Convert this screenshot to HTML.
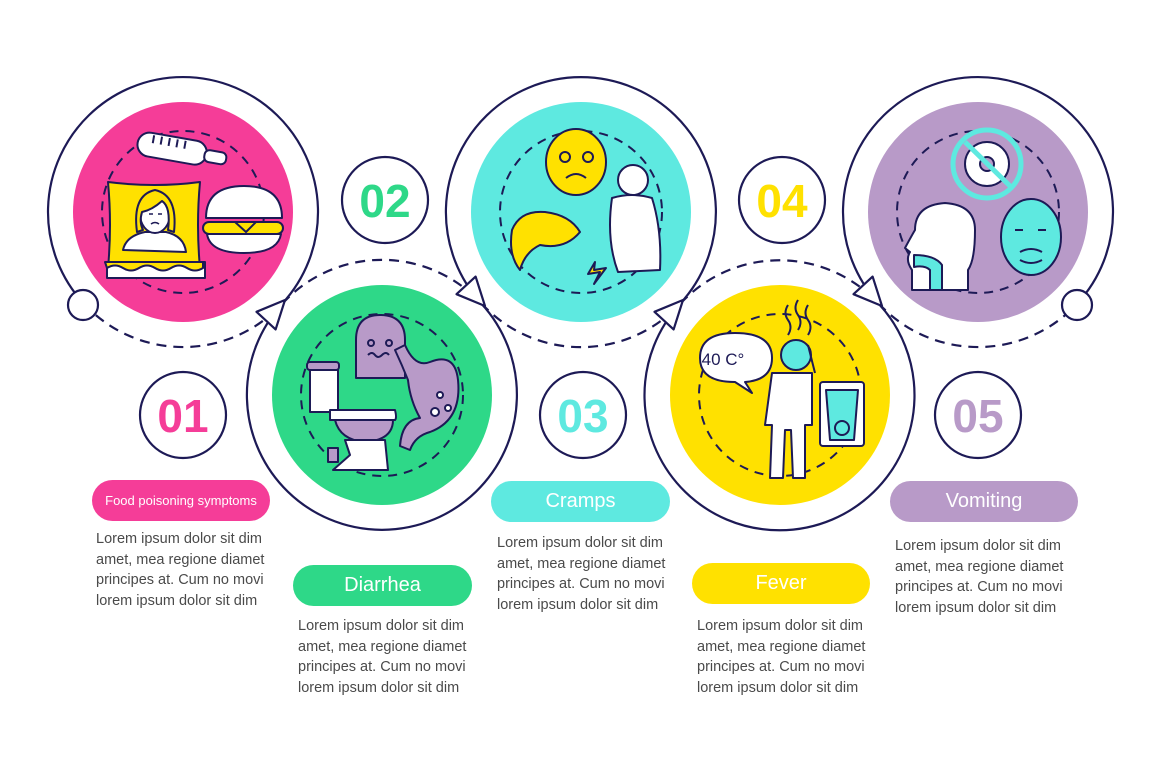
<!DOCTYPE html>
<html><head><meta charset="utf-8"><style>
html,body{margin:0;padding:0;background:#fff;}
body{width:1160px;height:772px;position:relative;overflow:hidden;font-family:"Liberation Sans",sans-serif;}
.pill{position:absolute;height:41px;border-radius:21px;color:#fff;display:flex;align-items:center;justify-content:center;font-size:20px;}
.txt{position:absolute;font-size:14.5px;line-height:20.5px;color:#4a4a4a;white-space:nowrap;}
svg{position:absolute;left:0;top:0;}
</style></head><body>
<svg width="1160" height="772" viewBox="0 0 1160 772">
<g fill="none" stroke="#1d1a56" stroke-width="2.2">
<path d="M83.6 303.4 A135 135 0 1 1 282.4 303.4"/>
<path d="M83.6 303.4 A135 135 0 0 0 282.4 303.4" stroke-dasharray="10 7"/>
<path d="M282.4 303.6 A135 135 0 1 0 481.4 303.6"/>
<path d="M282.4 303.6 A135 135 0 0 1 481.4 303.6" stroke-dasharray="10 7"/>
<path d="M481.4 303.4 A135 135 0 1 1 680.4 303.4"/>
<path d="M481.4 303.4 A135 135 0 0 0 680.4 303.4" stroke-dasharray="10 7"/>
<path d="M680.4 303.6 A135 135 0 1 0 878.6 303.6"/>
<path d="M680.4 303.6 A135 135 0 0 1 878.6 303.6" stroke-dasharray="10 7"/>
<path d="M878.6 303.4 A135 135 0 1 1 1077.4 303.4"/>
<path d="M878.6 303.4 A135 135 0 0 0 1077.4 303.4" stroke-dasharray="10 7"/>
</g>
<circle cx="183" cy="212" r="110" fill="#f53d98"/>
<circle cx="382" cy="395" r="110" fill="#2ed888"/>
<circle cx="581" cy="212" r="110" fill="#5ee9e0"/>
<circle cx="780" cy="395" r="110" fill="#ffe100"/>
<circle cx="978" cy="212" r="110" fill="#b89ac8"/>
<g fill="none" stroke="#1d1a56" stroke-width="2" stroke-dasharray="9 7">
<circle cx="183" cy="212" r="81"/>
<circle cx="382" cy="395" r="81"/>
<circle cx="581" cy="212" r="81"/>
<circle cx="780" cy="395" r="81"/>
<circle cx="978" cy="212" r="81"/>
</g>
<g fill="#fff" stroke="#1d1a56" stroke-width="2.2" stroke-linejoin="round">
<g transform="translate(285,300) rotate(-47.4)"><polygon points="0,0 -28,-13 -28,13"/></g>
<g transform="translate(485,306) rotate(47.4)"><polygon points="0,0 -28,-13 -28,13"/></g>
<g transform="translate(683,300) rotate(-47.4)"><polygon points="0,0 -28,-13 -28,13"/></g>
<g transform="translate(882,306) rotate(47.4)"><polygon points="0,0 -28,-13 -28,13"/></g>
<circle cx="83" cy="305" r="15"/>
<circle cx="1077" cy="305" r="15"/>
</g>
<g fill="#fff" stroke="#1d1a56" stroke-width="2.2">
<circle cx="183" cy="415" r="43"/>
<circle cx="385" cy="200" r="43"/>
<circle cx="583" cy="415" r="43"/>
<circle cx="782" cy="200" r="43"/>
<circle cx="978" cy="415" r="43"/>
</g>
<g font-family="Liberation Sans, sans-serif" font-weight="bold" font-size="46" text-anchor="middle">
<text x="183" y="432" fill="#f53d98">01</text>
<text x="385" y="217" fill="#2ed888">02</text>
<text x="583" y="432" fill="#5ee9e0">03</text>
<text x="782" y="217" fill="#ffe100">04</text>
<text x="978" y="432" fill="#b89ac8">05</text>
</g>

<g stroke="#1d1a56" stroke-width="2" stroke-linejoin="round">
<g transform="rotate(10 180 150)">
<rect x="137" y="138" width="70" height="24" rx="12" fill="#fff"/>
<rect x="205" y="145" width="22" height="12" rx="5" fill="#fff"/>
<path d="M152 140v8M160 140v8M168 140v8M176 140v8M184 140v8" fill="none"/>
</g>
<path d="M108 182 Q155 188 200 182 Q196 225 200 268 Q155 262 108 268 Q112 225 108 182Z" fill="#ffe100"/>
<path d="M123 250 Q126 236 145 232 L166 232 Q184 236 186 252 Z" fill="#fff"/>
<ellipse cx="155" cy="214" rx="15" ry="19" fill="#fff"/>
<path d="M137 232 Q132 195 155 190 Q178 195 174 232 L168 230 Q171 207 162 201 Q152 210 142 212 Q139 222 143 230Z" fill="#ffe100"/>
<path d="M149 214 h4 M158 214 h4 M151 224 q4 -3 8 0" fill="none" stroke-width="1.5"/>
<rect x="107" y="262" width="98" height="16" fill="#fff"/>
<path d="M107 268 q8-5 16 0 t16 0 t16 0 t16 0 t16 0 t16 0 v-6 h-98Z" fill="#ffe100"/>
<path d="M206 218 Q206 186 244 186 Q282 186 282 218Z" fill="#fff"/>
<rect x="203" y="222" width="80" height="12" rx="6" fill="#ffe100"/>
<path d="M235 222 L256 222 L246 232Z" fill="#ffe100"/>
<path d="M207 234 L281 234 Q278 253 244 253 Q210 253 207 234Z" fill="#fff"/>

<path d="M356 378 L356 340 Q356 315 380 315 Q405 315 405 340 L405 378Z" fill="#b89ac8"/>
<circle cx="371" cy="343" r="3" fill="none"/><circle cx="389" cy="343" r="3" fill="none"/>
<path d="M368 355 q4-4 7 0 t7 0 t7 0" fill="none"/>
<rect x="307" y="362" width="32" height="8" rx="3" fill="#b89ac8"/>
<rect x="310" y="370" width="28" height="42" fill="#fff"/>
<path d="M330 410 L395 410 Q397 418 395 420 L330 420Z" fill="#fff"/>
<path d="M335 420 L393 420 Q393 440 365 442 Q340 440 335 420Z" fill="#b89ac8"/>
<path d="M345 440 L385 440 L388 470 L333 470 L350 455Z" fill="#fff"/>
<rect x="328" y="448" width="10" height="14" fill="#b89ac8"/>
<path d="M405 345 Q415 368 430 362 Q455 352 458 380 Q462 420 430 432 Q415 436 410 450 L400 446 Q402 420 420 418 Q410 400 408 380 Q402 365 395 350Z" fill="#b89ac8"/>
<g fill="#fff"><circle cx="440" cy="395" r="3"/><circle cx="448" cy="408" r="3"/><circle cx="435" cy="412" r="4"/></g>

<ellipse cx="576" cy="162" rx="30" ry="33" fill="#ffe100"/>
<circle cx="565" cy="157" r="5" fill="none"/><circle cx="588" cy="157" r="5" fill="none"/>
<path d="M566 178 Q576 170 586 178" fill="none"/>
<circle cx="633" cy="180" r="15" fill="#fff"/>
<path d="M612 198 Q632 192 652 198 Q662 230 660 270 L618 272 Q606 240 612 198Z" fill="#fff"/>
<path d="M512 230 Q520 210 545 212 Q570 215 580 232 Q565 250 540 245 Q525 252 520 270 Q508 255 512 230Z" fill="#ffe100"/>
<path d="M595 262 L588 274 L600 272 L594 284 L606 268 L594 270Z" fill="#ffe100"/>

<path d="M700 358 Q700 333 735 333 Q772 333 772 358 Q772 380 745 382 L752 393 L735 382 Q700 382 700 358Z" fill="#fff"/>
<circle cx="796" cy="355" r="15" fill="#5ee9e0"/>
<path d="M772 373 L812 373 L812 425 L805 425 L805 478 L793 478 L791 430 L785 430 L783 478 L770 478 L772 425 L765 425 Z" fill="#fff"/>
<path d="M808 345 L815 373" fill="none"/>
<rect x="820" y="382" width="44" height="64" rx="3" fill="#fff"/>
<path d="M826 390 L858 390 L854 440 L830 440Z" fill="#5ee9e0"/>
<circle cx="842" cy="428" r="7" fill="none"/>
<path d="M788 305 q-5 8 0 15 t0 15 M798 300 q-5 8 0 15 t0 15 M808 305 q-5 8 0 15 t0 15" fill="none"/>

<circle cx="987" cy="164" r="34" fill="#b89ac8"/>
<circle cx="987" cy="164" r="34" fill="none" stroke="#5ee9e0" stroke-width="5"/>
<circle cx="987" cy="164" r="22" fill="#fff"/>
<circle cx="987" cy="164" r="7" fill="#b89ac8"/>
<path d="M965 142 L1010 186" stroke="#5ee9e0" stroke-width="5"/>
<path d="M912 290 L912 270 Q905 260 910 252 L905 248 Q912 235 915 230 Q915 205 945 203 Q975 205 975 230 Q975 260 968 270 L968 290Z" fill="#fff"/>
<path d="M914 255 Q935 255 942 265 L942 290 L930 290 L930 270 Q925 265 914 267Z" fill="#5ee9e0"/>
<ellipse cx="1031" cy="237" rx="30" ry="38" fill="#5ee9e0"/>
<path d="M1015 230 h8 M1038 230 h8 M1020 252 q11 -6 22 0 M1020 260 q11 6 22 0" fill="none"/>
</g>
<text x="723" y="365" font-family="Liberation Sans, sans-serif" font-size="17" fill="#1d1a56" text-anchor="middle">40 C°</text>
</svg>

<div class="pill" style="left:92px;top:480px;width:178px;background:#f53d98;font-size:13px;">Food poisoning symptoms</div>
<div class="pill" style="left:293px;top:565px;width:179px;background:#2ed888;">Diarrhea</div>
<div class="pill" style="left:491px;top:481px;width:179px;background:#5ee9e0;">Cramps</div>
<div class="pill" style="left:692px;top:563px;width:178px;background:#ffe100;">Fever</div>
<div class="pill" style="left:890px;top:481px;width:188px;background:#b89ac8;">Vomiting</div>

<div class="txt" style="left:96px;top:529px;">Lorem ipsum dolor sit dim<br>amet, mea regione diamet<br>principes at. Cum no movi<br>lorem ipsum dolor sit dim</div>
<div class="txt" style="left:298px;top:616px;">Lorem ipsum dolor sit dim<br>amet, mea regione diamet<br>principes at. Cum no movi<br>lorem ipsum dolor sit dim</div>
<div class="txt" style="left:497px;top:533px;">Lorem ipsum dolor sit dim<br>amet, mea regione diamet<br>principes at. Cum no movi<br>lorem ipsum dolor sit dim</div>
<div class="txt" style="left:697px;top:616px;">Lorem ipsum dolor sit dim<br>amet, mea regione diamet<br>principes at. Cum no movi<br>lorem ipsum dolor sit dim</div>
<div class="txt" style="left:895px;top:536px;">Lorem ipsum dolor sit dim<br>amet, mea regione diamet<br>principes at. Cum no movi<br>lorem ipsum dolor sit dim</div>
</body></html>
